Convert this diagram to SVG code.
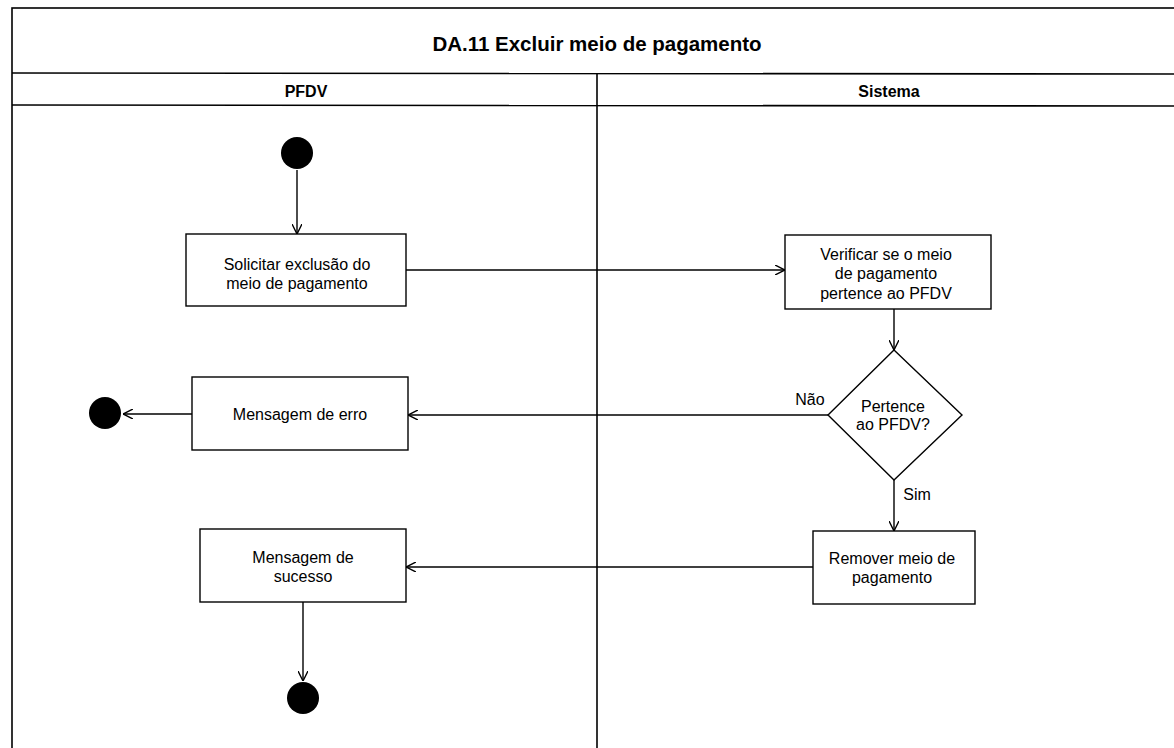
<svg xmlns="http://www.w3.org/2000/svg" width="1174" height="748" viewBox="0 0 1174 748">
<defs>
<marker id="arr" viewBox="0 0 10 10" refX="10" refY="5" markerWidth="10" markerHeight="10" markerUnits="userSpaceOnUse" orient="auto">
<path d="M0,0 L10,5 L0,10" fill="none" stroke="#000" stroke-width="1.4"/>
</marker>
<style>
.frame{fill:none;stroke:#000;stroke-width:1.6}
.box{fill:#fff;stroke:#000;stroke-width:1.4}
.dot{fill:#000}
.lbl{font-family:"Liberation Sans",Arial,sans-serif;font-size:16px;fill:#000;text-anchor:middle}
.hdr{font-family:"Liberation Sans",Arial,sans-serif;font-size:16px;font-weight:bold;fill:#000;text-anchor:middle}
.ttl{font-family:"Liberation Sans",Arial,sans-serif;font-size:20.5px;font-weight:bold;fill:#000;text-anchor:middle}
.edge{fill:none;stroke:#000;stroke-width:1.4;marker-end:url(#arr)}
</style>
</defs>
<rect width="1174" height="748" fill="#fff"/>
<g id="frame">
<rect class="frame" x="12" y="8" width="1170" height="760"/>
<line class="frame" x1="12" y1="73" x2="1174" y2="74"/>
<line class="frame" x1="12" y1="105" x2="1174" y2="106"/>
<line class="frame" x1="597" y1="73" x2="597" y2="748"/>
<text class="ttl" x="597" y="51">DA.11 Excluir meio de pagamento</text>
<text class="hdr" x="306" y="97">PFDV</text>
<text class="hdr" x="889" y="97">Sistema</text>
</g>
<g id="connectors">
<line class="edge" x1="297" y1="170" x2="297" y2="234"/>
<line class="edge" x1="406" y1="270" x2="785" y2="270"/>
<line class="edge" x1="894" y1="309" x2="894" y2="350"/>
<line class="edge" x1="828" y1="415" x2="408" y2="415"/>
<line class="edge" x1="192" y1="414" x2="123" y2="414"/>
<line class="edge" x1="894" y1="480" x2="894" y2="531"/>
<line class="edge" x1="813" y1="567" x2="406" y2="567"/>
<line class="edge" x1="303" y1="602" x2="303" y2="681"/>
<text class="lbl" x="810" y="405">Não</text>
<text class="lbl" x="917" y="500">Sim</text>
</g>
<g id="start"><circle class="dot" cx="297" cy="153" r="16"/></g>
<g id="solicitar">
<rect class="box" x="186" y="234" width="220" height="72"/>
<text class="lbl" x="297" y="270">Solicitar exclusão do</text>
<text class="lbl" x="297" y="289">meio de pagamento</text>
</g>
<g id="verificar">
<rect class="box" x="785" y="235" width="206" height="74"/>
<text class="lbl" x="886" y="260">Verificar se o meio</text>
<text class="lbl" x="886" y="279">de pagamento</text>
<text class="lbl" x="886" y="299">pertence ao PFDV</text>
</g>
<g id="decisao">
<polygon class="box" points="894,350 962,415 894,480 828,415"/>
<text class="lbl" x="893" y="412">Pertence</text>
<text class="lbl" x="893" y="430">ao PFDV?</text>
</g>
<g id="erro">
<rect class="box" x="192" y="377" width="216" height="73"/>
<text class="lbl" x="300" y="420">Mensagem de erro</text>
</g>
<g id="fim-erro"><circle class="dot" cx="105" cy="413" r="16"/></g>
<g id="remover">
<rect class="box" x="813" y="531" width="162" height="73"/>
<text class="lbl" x="892" y="564">Remover meio de</text>
<text class="lbl" x="892" y="583">pagamento</text>
</g>
<g id="sucesso">
<rect class="box" x="200" y="529" width="206" height="73"/>
<text class="lbl" x="303" y="563">Mensagem de</text>
<text class="lbl" x="303" y="582">sucesso</text>
</g>
<g id="fim"><circle class="dot" cx="303" cy="698" r="16"/></g>
</svg>
